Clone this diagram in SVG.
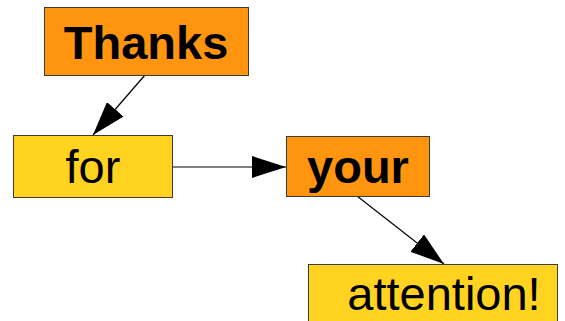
<svg xmlns="http://www.w3.org/2000/svg" width="565" height="321" viewBox="0 0 565 321">
<defs>
<style>
.orange{fill:#ff950e;stroke:#3c3c3c;stroke-width:1}
.yellow{fill:#ffd320;stroke:#3c3c3c;stroke-width:1}
.t{font-family:"Liberation Sans",Arial,sans-serif;font-size:47px;fill:#000;text-anchor:middle}
.b{font-weight:bold}
.c{stroke:#000;stroke-width:1.2;fill:none}
</style>
<marker id="ah" markerWidth="34" markerHeight="22" refX="34" refY="11" orient="auto" markerUnits="userSpaceOnUse">
<path d="M0,0 L34,11 L0,22 Z" fill="#000"/>
</marker>
</defs>
<g id="connectors">
<line class="c" x1="145" y1="75" x2="93" y2="135" marker-end="url(#ah)"/>
<line class="c" x1="172" y1="167" x2="286" y2="167" marker-end="url(#ah)"/>
<line class="c" x1="357" y1="196" x2="444" y2="264" marker-end="url(#ah)"/>
</g>
<g id="node-thanks">
<rect class="orange" x="44.5" y="7.5" width="204" height="68"/>
<text class="t b" x="146" y="59">Thanks</text>
</g>
<g id="node-for">
<rect class="yellow" x="13.5" y="135.5" width="159" height="62"/>
<text class="t" x="93" y="183">for</text>
</g>
<g id="node-your">
<rect class="orange" x="286.5" y="136.5" width="143" height="60"/>
<text class="t b" x="358" y="183">your</text>
</g>
<g id="node-attention">
<rect class="yellow" x="308.5" y="264.5" width="249" height="70"/>
<text class="t" x="444" y="310">attention!</text>
</g>
</svg>
